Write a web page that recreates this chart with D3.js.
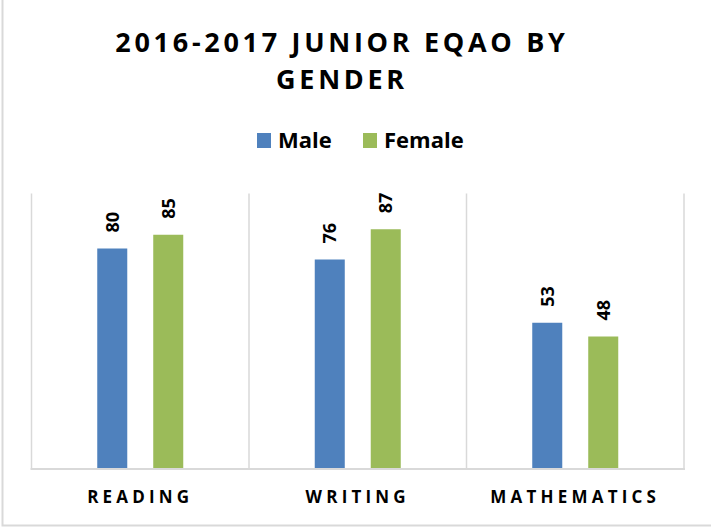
<!DOCTYPE html>
<html>
<head>
<meta charset="utf-8">
<script src="https://cdn.jsdelivr.net/npm/d3@7"></script>
<style>
  body { margin: 0; background: #fff; }
  text { font-family: "Open Sans", sans-serif; font-weight: bold; fill: #000; }
</style>
</head>
<body>
<div id="chart1"></div>
<script>
var w = 711;
var h = 529;

// data
var categories = ["READING", "WRITING", "MATHEMATICS"];
var seriesNames = ["Male", "Female"];
var maleValues = [80, 76, 53];
var femaleValues = [85, 87, 48];
var colors = ["#4f81bd", "#9bbb59"];

var svg1;

//xScale
var xScale = d3.scaleBand()
               .domain(categories)
               .range([31.5, 684]);
//inner scale for the two bars
var xInner = d3.scaleBand()
               .domain(seriesNames)
               .range([-43, 43])
               .paddingInner(0.464)
               .paddingOuter(0);
//yScale
var yScale = d3.scaleLinear()
               .domain([0, 100])
               .range([468.5, 193.5]);

function BarChart() {
  var rows = categories.map(function(c, i) {
    return {cat: c, values: [maleValues[i], femaleValues[i]]};
  });

  // category separators
  svg1.selectAll(".sep")
      .data(d3.range(categories.length + 1))
      .enter()
      .append("line")
      .attr("class", "sep")
      .attr("x1", i => i < categories.length ? xScale(categories[i]) : xScale.range()[1])
      .attr("x2", i => i < categories.length ? xScale(categories[i]) : xScale.range()[1])
      .attr("y1", yScale(100))
      .attr("y2", yScale(0))
      .attr("stroke", "#d9d9d9")
      .attr("stroke-width", 1.5);

  var groups = svg1.selectAll(".grp")
                   .data(rows)
                   .enter()
                   .append("g")
                   .attr("class", "grp")
                   .attr("transform", d => "translate(" + (xScale(d.cat) + xScale.bandwidth() / 2) + ",0)");

  groups.selectAll("rect")
        .data(d => d.values.map((v, j) => ({name: seriesNames[j], v: v, j: j})))
        .enter()
        .append("rect")
        .attr("x", d => xInner(d.name))
        .attr("y", d => yScale(d.v))
        .attr("width", xInner.bandwidth())
        .attr("height", d => yScale(0) - yScale(d.v))
        .style("fill", d => colors[d.j]);

  // value labels (rotated)
  groups.selectAll(".val")
        .data(d => d.values.map((v, j) => ({name: seriesNames[j], v: v})))
        .enter()
        .append("text")
        .attr("class", "val")
        .attr("transform", d => "translate(" + (xInner(d.name) + xInner.bandwidth() / 2 + 6.5) + "," + (yScale(d.v) - 16) + ") rotate(-90)")
        .attr("font-size", "18px")
        .text(d => d.v);

  // baseline
  svg1.append("line")
      .attr("x1", xScale.range()[0] - 1)
      .attr("x2", xScale.range()[1] + 1)
      .attr("y1", yScale(0) + 0.5)
      .attr("y2", yScale(0) + 0.5)
      .attr("stroke", "#d9d9d9")
      .attr("stroke-width", 2);

  // category labels
  svg1.selectAll(".cat")
      .data(categories)
      .enter()
      .append("text")
      .attr("class", "cat")
      .attr("x", d => xScale(d) + xScale.bandwidth() / 2)
      .attr("y", 503)
      .attr("text-anchor", "middle")
      .attr("font-size", "17px")
      .style("letter-spacing", "4.2px")
      .text(d => d);
}

function Title() {
  var lines = ["2016-2017 JUNIOR EQAO BY", "GENDER"];
  svg1.selectAll(".title")
      .data(lines)
      .enter()
      .append("text")
      .attr("class", "title")
      .attr("x", 342)
      .attr("y", (d, i) => 52 + i * 37)
      .attr("text-anchor", "middle")
      .attr("font-size", "27px")
      .style("letter-spacing", "3.7px")
      .text(d => d);
}

function Legend() {
  var xs = [257, 363];
  var leg = svg1.selectAll(".leg")
                .data(seriesNames)
                .enter()
                .append("g")
                .attr("class", "leg")
                .attr("transform", (d, i) => "translate(" + xs[i] + ",133)");
  leg.append("rect")
     .attr("width", 14)
     .attr("height", 15)
     .style("fill", (d, i) => colors[i]);
  leg.append("text")
     .attr("x", 21)
     .attr("y", 15)
     .attr("font-size", "22px")
     .text(d => d);
}

function main(){
  svg1 = d3.select("#chart1")
           .append("svg")
           .attr("width", w)
           .attr("height", h);
  // outer border (left and bottom only visible)
  svg1.append("path")
      .attr("d", "M2.5,0 V525.5 H711")
      .attr("fill", "none")
      .attr("stroke", "#d9d9d9")
      .attr("stroke-width", 2);
  Title();
  Legend();
  BarChart();
}

window.onload = function() {
  main();
};
</script>
</body>
</html>
